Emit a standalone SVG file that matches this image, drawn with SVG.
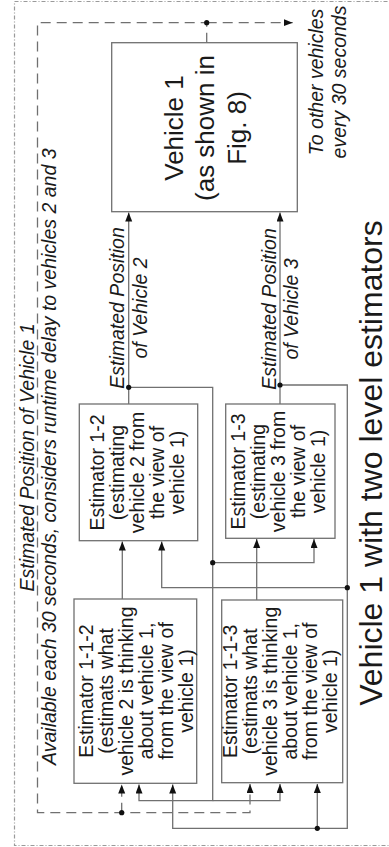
<svg xmlns="http://www.w3.org/2000/svg" width="389" height="847" viewBox="0 0 389 847">
<style>
.box{fill:#fff;stroke:#707070;stroke-width:1.3}
.ln{fill:none;stroke:#707070;stroke-width:1.3}
.dash{stroke-dasharray:10 6}
.border{fill:none;stroke:#9a9a9a;stroke-width:1.2;stroke-dasharray:4 2 1 2}
.t{font-family:"Liberation Sans",Arial,sans-serif;fill:#1a1a1a;text-anchor:middle}
.it{font-style:italic}
.s{font-size:19.5px}
.dot{fill:#111}
</style>
<defs>
<marker id="ah" markerUnits="userSpaceOnUse" markerWidth="10" markerHeight="8" refX="9" refY="3.5" orient="auto">
<path d="M0,0 L9,3.5 L0,7 z" fill="#111"/>
</marker>
</defs>
<rect class="border" x="14.5" y="1.5" width="380" height="844"/>
<g id="connectors">
<path class="ln dash" d="M206.7,42.7 V22.7 H37.5 V812.7 H250 V784" marker-end="url(#ah)"/>
<path class="ln dash" d="M206.7,22.7 H292.7" marker-end="url(#ah)"/>
<path class="ln dash" d="M121.7,812.7 V784.5" marker-end="url(#ah)"/>
<path class="ln" d="M128.7,404 V212.5" marker-end="url(#ah)"/>
<path class="ln" d="M280,404 V212.5" marker-end="url(#ah)"/>
<path class="ln" d="M128.7,387.3 H212.7 V800.7 H139 V784.5" marker-end="url(#ah)"/>
<path class="ln" d="M212.7,800.7 H280 V784" marker-end="url(#ah)"/>
<path class="ln" d="M212.7,562.7 H314 V539" marker-end="url(#ah)"/>
<path class="ln" d="M280,385 H347.3 V828.3 H172.7 V784.5" marker-end="url(#ah)"/>
<path class="ln" d="M347.3,587.7 H161.7 V541.5" marker-end="url(#ah)"/>
<path class="ln" d="M317.3,828.3 V784" marker-end="url(#ah)"/>
<path class="ln" d="M122.3,599 V541.5" marker-end="url(#ah)"/>
<path class="ln" d="M256.7,600 V539" marker-end="url(#ah)"/>
<circle class="dot" cx="206.7" cy="22.7" r="2.6"/>
<circle class="dot" cx="121.7" cy="812.7" r="2.6"/>
<circle class="dot" cx="128.7" cy="387.3" r="2.6"/>
<circle class="dot" cx="212.7" cy="562.7" r="2.6"/>
<circle class="dot" cx="280" cy="385" r="2.6"/>
<circle class="dot" cx="347.3" cy="587.7" r="2.6"/>
<circle class="dot" cx="317.3" cy="828.3" r="2.6"/>
</g>
<g id="vehicle1">
<rect class="box" x="111.7" y="42.7" width="185.6" height="169"/>
<text class="t" font-size="26" transform="translate(182.5,128) rotate(-90)"><tspan x="0" dy="0">Vehicle 1</tspan><tspan x="0" dy="31.5">(as shown in</tspan><tspan x="0" dy="31.5">Fig. 8)</tspan></text>
</g>
<g id="est12">
<rect class="box" x="79.3" y="404" width="118.4" height="136.7"/>
<text class="t s" transform="translate(103.5,472.5) rotate(-90)"><tspan x="0" dy="0">Estimator 1-2</tspan><tspan x="0" dy="20.2">(estimating</tspan><tspan x="0" dy="20.2">vehicle 2 from</tspan><tspan x="0" dy="20.2">the view of</tspan><tspan x="0" dy="20.2">vehicle 1)</tspan></text>
</g>
<g id="est13">
<rect class="box" x="225.7" y="404" width="109.3" height="134.3"/>
<text class="t s" transform="translate(245,471.5) rotate(-90)"><tspan x="0" dy="0">Estimator 1-3</tspan><tspan x="0" dy="20">(estimating</tspan><tspan x="0" dy="20">vehicle 3 from</tspan><tspan x="0" dy="20">the view of</tspan><tspan x="0" dy="20">vehicle 1)</tspan></text>
</g>
<g id="est112">
<rect class="box" x="74" y="599" width="122.7" height="184.3"/>
<text class="t s" transform="translate(93.3,691) rotate(-90)"><tspan x="0" dy="0">Estimator 1-1-2</tspan><tspan x="0" dy="20">(estimats what</tspan><tspan x="0" dy="20">vehicle 2 is thinking</tspan><tspan x="0" dy="20">about vehicle 1,</tspan><tspan x="0" dy="20">from the view of</tspan><tspan x="0" dy="20">vehicle 1)</tspan></text>
</g>
<g id="est113">
<rect class="box" x="221.7" y="600" width="121" height="182.7"/>
<text class="t s" transform="translate(236.7,691.3) rotate(-90)"><tspan x="0" dy="0">Estimator 1-1-3</tspan><tspan x="0" dy="20">(estimats what</tspan><tspan x="0" dy="20">vehicle 3 is thinking</tspan><tspan x="0" dy="20">about vehicle 1,</tspan><tspan x="0" dy="20">from the view of</tspan><tspan x="0" dy="20">vehicle 1)</tspan></text>
</g>
<g id="labels">
<text class="t it s" transform="translate(34.3,457.5) rotate(-90)">Estimated Position of Vehicle 1</text>
<text class="t it s" transform="translate(56,456.7) rotate(-90)">Available each 30 seconds, considers runtime delay to vehicles 2 and 3</text>
<text class="t it s" transform="translate(124,308) rotate(-90)"><tspan x="0" dy="0">Estimated Position</tspan><tspan x="0" dy="22.7">of Vehicle 2</tspan></text>
<text class="t it s" transform="translate(275.5,309) rotate(-90)"><tspan x="0" dy="0">Estimated Position</tspan><tspan x="0" dy="22.7">of Vehicle 3</tspan></text>
<text class="t it s" transform="translate(323,82) rotate(-90)"><tspan x="0" dy="0">To other vehicles</tspan><tspan x="0" dy="23">every 30 seconds</tspan></text>
<text class="t" font-size="32" transform="translate(382,463) rotate(-90)">Vehicle 1 with two level estimators</text>
</g>
</svg>
